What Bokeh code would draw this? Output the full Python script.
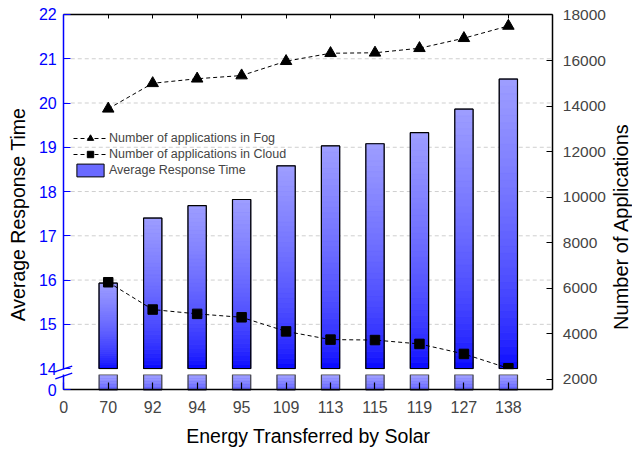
from bokeh.plotting import figure
from bokeh.models import (Range1d, LinearAxis, FixedTicker, ColumnDataSource, Legend,
                          LegendItem, BoxAnnotation, Arrow, Label)
from bokeh.embed import file_html
from bokeh.resources import INLINE
import math

# ---------------- data ----------------
energy = [70, 92, 94, 95, 109, 113, 115, 119, 127, 138]
response_time = [15.93, 17.40, 17.68, 17.82, 18.58, 19.03, 19.08, 19.33, 19.86, 20.54]
apps_fog = [13880, 15000, 15200, 15340, 15970, 16320, 16340, 16540, 16980, 17520]
apps_cloud = [6260, 5060, 4870, 4720, 4100, 3740, 3720, 3550, 3110, 2480]
left_ticks = [14, 15, 16, 17, 18, 19, 20, 21, 22]
right_ticks = [2000, 4000, 6000, 8000, 10000, 12000, 14000, 16000, 18000]

# axis break: value 0 is drawn just below 14
ZERO_POS = 13.52
BREAK_LOW = 13.865
BREAK_HIGH = 14.0
Y_TOP = 22

FONT = "Liberation Sans"
BLUE = "#0000ff"

xs = list(range(1, len(energy) + 1))
X_END = len(energy) + 1

# the frame covers the whole canvas; the boxed plot area is [0, X_END] x [ZERO_POS, 22]
p = figure(width=632, height=451, output_backend="svg", toolbar_location=None, title=None,
           x_range=Range1d(-1.4228, 12.7914), y_range=Range1d(12.127, 22.316),
           min_border_left=0, min_border_right=0, min_border_top=0, min_border_bottom=0)
p.outline_line_color = None
p.background_fill_color = "white"
p.xgrid.visible = False
p.ygrid.visible = False
p.extra_y_ranges = {"apps": Range1d(-1176, 18637)}

# grid lines inside the box only
grid_y = left_ticks[1:-1]
p.segment(x0=[0] * len(grid_y), x1=[X_END] * len(grid_y), y0=grid_y, y1=grid_y,
          line_color="#cfcfcf", line_dash="4 3", line_width=1)

# ---------- gradient bars ----------
def slices(xvals, tops, bottom, c_top, c_bot, n, gamma):
    d = dict(x=[], top=[], bottom=[], color=[])
    for x, v in zip(xvals, tops):
        for k in range(n):
            b = bottom + (v - bottom) * k / n
            t = bottom + (v - bottom) * (k + 1) / n
            f = ((k + 0.5) / n) ** gamma
            c = [int(round(c_bot[i] + (c_top[i] - c_bot[i]) * f)) for i in range(3)]
            d["x"].append(x)
            d["top"].append(t)
            d["bottom"].append(b)
            d["color"].append("#%02x%02x%02x" % tuple(c))
    return ColumnDataSource(d)

BAR_W = 0.41
bar_src = ColumnDataSource(dict(x=xs, top=response_time))
bar_legend = p.vbar(x="x", top="top", bottom=BREAK_HIGH, width=BAR_W, source=bar_src,
                    fill_color="#6a6aff", line_color="black", line_width=1)

up = slices(xs, response_time, BREAK_HIGH, (158, 158, 255), (0, 0, 255), 40, 0.6)
p.vbar(x="x", top="top", bottom="bottom", width=BAR_W, source=up,
       fill_color="color", line_color="color", line_width=0.6)
low = slices(xs, [BREAK_LOW] * len(xs), ZERO_POS, (160, 160, 255), (95, 95, 255), 10, 1.0)
p.vbar(x="x", top="top", bottom="bottom", width=BAR_W, source=low,
       fill_color="color", line_color="color", line_width=0.6)

p.vbar(x="x", top="top", bottom=BREAK_HIGH, width=BAR_W, source=bar_src,
       fill_color=None, line_color="black", line_width=1.2)
p.vbar(x=xs, top=BREAK_LOW, bottom=ZERO_POS, width=BAR_W,
       fill_color=None, line_color="#444444", line_width=1.2)

# ---------- lines on right axis ----------
fog_line = p.line(xs, apps_fog, y_range_name="apps", line_color="black",
                  line_width=1, line_dash="4 3")
fog_pts = p.scatter(xs, apps_fog, y_range_name="apps", marker="triangle", size=11.5,
                    fill_color="black", line_color="black")
cloud_line = p.line(xs, apps_cloud, y_range_name="apps", line_color="black",
                    line_width=1, line_dash="4 3")
cloud_pts = p.scatter(xs, apps_cloud, y_range_name="apps", marker="square", size=9.5,
                      fill_color="black", line_color="black")

# ---------- axes (all drawn at fixed locations round the box) ----------
xa = p.xaxis[0]
xa.fixed_location = ZERO_POS
xa.bounds = (0, X_END)
xa.ticker = FixedTicker(ticks=[0] + xs)
xa.major_label_overrides = {0: "0", **{x: str(e) for x, e in zip(xs, energy)}}
xa.major_tick_in = 7
xa.major_tick_out = 0
xa.minor_tick_line_color = None
xa.axis_line_width = 1.5
xa.major_tick_line_width = 1.2
xa.major_label_text_font = FONT
xa.major_label_text_font_size = "16px"
xa.major_label_standoff = 11

ya = p.yaxis[0]
ya.fixed_location = 0
ya.bounds = (ZERO_POS, Y_TOP)
ya.ticker = FixedTicker(ticks=[ZERO_POS] + left_ticks)
ya.major_label_overrides = {ZERO_POS: "0"}
ya.axis_line_color = BLUE
ya.axis_line_width = 1.5
ya.major_tick_line_color = BLUE
ya.major_tick_line_width = 1.2
ya.major_tick_in = 7
ya.major_tick_out = 0
ya.minor_tick_line_color = None
ya.major_label_text_color = BLUE
ya.major_label_text_font = FONT
ya.major_label_text_font_size = "16px"
ya.major_label_standoff = 7

ra = LinearAxis(y_range_name="apps", ticker=FixedTicker(ticks=right_ticks),
                fixed_location=X_END, bounds=(1530, 18020))
ra.major_tick_in = 6
ra.major_tick_out = 0
ra.minor_tick_line_color = None
ra.axis_line_width = 1.5
ra.major_tick_line_width = 1.2
ra.major_label_text_font = FONT
ra.major_label_text_font_size = "15.5px"
ra.major_label_standoff = 10
p.add_layout(ra, "right")

ta = LinearAxis(ticker=FixedTicker(ticks=xs), fixed_location=Y_TOP, bounds=(0, X_END))
ta.major_label_overrides = {x: "" for x in xs}
ta.major_tick_in = 4
ta.major_tick_out = 0
ta.minor_tick_line_color = None
ta.axis_line_width = 1.5
ta.major_label_standoff = 0
p.add_layout(ta, "above")

# ---------- axis titles ----------
def title(text, x, y, angle, size):
    p.add_layout(Label(x=x, y=y, text=text, angle=angle, text_align="center",
                       text_baseline="middle", text_font=FONT, text_font_size=size,
                       text_color="black"))

title("Energy Transferred by Solar", X_END / 2, 12.481, 0, "19.5px")
title("Average Response Time", -1.036, 17.48, math.pi / 2, "19.5px")
title("Number of Applications", 12.535, 17.21, math.pi / 2, "20px")

# ---------- axis break ----------
p.add_layout(BoxAnnotation(bottom=BREAK_LOW, top=BREAK_HIGH - 0.015, left=-0.05, right=X_END - 0.3,
                           fill_color="white", fill_alpha=1, line_color=None))
p.add_layout(Arrow(end=None, x_start=-0.19, y_start=13.934, x_end=0.19, y_end=14.054,
                   line_color=BLUE, line_width=1.3))
p.add_layout(Arrow(end=None, x_start=-0.19, y_start=13.77, x_end=0.19, y_end=13.896,
                   line_color=BLUE, line_width=1.3))

# ---------- legend ----------
legend = Legend(items=[
    LegendItem(label="Number of applications in Fog", renderers=[fog_line, fog_pts]),
    LegendItem(label="Number of applications in Cloud", renderers=[cloud_line, cloud_pts]),
    LegendItem(label="Average Response Time", renderers=[bar_legend]),
], location=(73, 273), background_fill_alpha=0, border_line_color=None,
    label_text_font=FONT, label_text_font_size="12.5px", glyph_width=34, glyph_height=16,
    label_height=16, spacing=0, padding=0, margin=0, label_standoff=2)
p.add_layout(legend)

open("out.html", "w").write(file_html(p, INLINE))
